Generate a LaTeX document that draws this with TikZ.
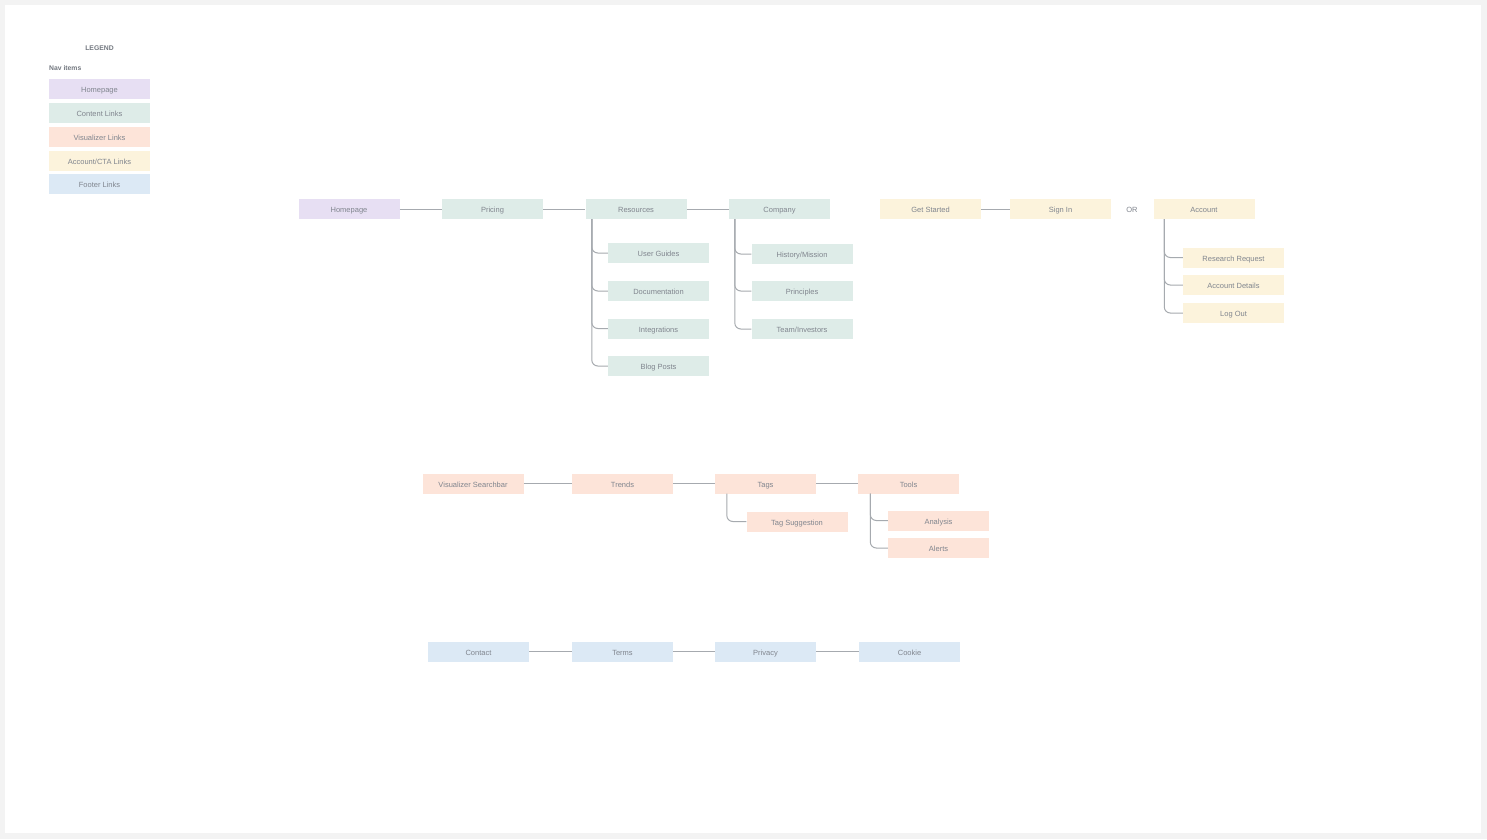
\documentclass[tikz,border=0pt]{standalone}
\usepackage{fontspec}
\setmainfont{Liberation Sans}
\usepackage{xcolor}
\usetikzlibrary{calc}

\definecolor{homefill}{HTML}{E7DFF3}
\definecolor{contentfill}{HTML}{DEECE8}
\definecolor{vizfill}{HTML}{FDE4D9}
\definecolor{acctfill}{HTML}{FCF3DC}
\definecolor{footfill}{HTML}{DCE9F5}
\definecolor{labelgray}{HTML}{80858E}
\definecolor{headgray}{HTML}{737880}
\definecolor{linkgray}{HTML}{A6AAAF}
\definecolor{pagebg}{HTML}{F3F3F3}

\tikzset{
  navbox/.style={rectangle,minimum width=101pt,minimum height=20pt,inner sep=0pt,
    text height=9.3pt,text depth=1.5pt,
    text=labelgray,font=\fontsize{7.5}{9}\selectfont},
  homebox/.style={navbox,fill=homefill},
  contentbox/.style={navbox,fill=contentfill},
  vizbox/.style={navbox,fill=vizfill},
  acctbox/.style={navbox,fill=acctfill},
  footbox/.style={navbox,fill=footfill},
  headtext/.style={text=headgray,font=\bfseries\fontsize{6.8}{8}\selectfont,inner sep=0pt},
  link/.style={draw=linkgray,line width=1pt},
  branch/.style={link,rounded corners=6pt}
}

\begin{document}
\begin{tikzpicture}[x=1pt,y=-1pt]
                \useasboundingbox (0,0) rectangle (1487,839);
                \fill[pagebg] (0,0) rectangle (1487,839);
                \fill[white] (5,5) rectangle (1481,833);

                % legend
                \node[headtext] (legend) at (99.5,48) {LEGEND};
                \node[headtext,anchor=west] (navitems) at (49,68.5) {Nav items};
                \node[homebox] (lhome) at (99.5,89) {Homepage};
                \node[contentbox] (lcontent) at (99.5,113) {Content Links};
                \node[vizbox] (lviz) at (99.5,137) {Visualizer Links};
                \node[acctbox] (lacct) at (99.5,161) {Account/CTA Links};
                \node[footbox] (lfoot) at (99.5,184) {Footer Links};

                % top row
                \node[homebox] (home) at (349,209) {Homepage};
                \node[contentbox] (pricing) at (492.5,209) {Pricing};
                \node[contentbox] (resources) at (636,209) {Resources};
                \node[contentbox] (company) at (779.5,209) {Company};
                \node[acctbox] (started) at (930.5,209) {Get Started};
                \node[acctbox] (signin) at (1060.5,209) {Sign In};
                \node[text=labelgray,font=\fontsize{7.5}{9}\selectfont,text height=9.3pt,text depth=1.5pt] (or) at (1132,209) {OR};
                \node[acctbox] (account) at (1204,209) {Account};

                \draw[link] (home) -- (pricing);
                \draw[link] (pricing) -- (resources);
                \draw[link] (resources) -- (company);
                \draw[link] (started) -- (signin);

                % resources
                \node[contentbox] (guides) at (658.5,253) {User Guides};
                \node[contentbox] (docs) at (658.5,291) {Documentation};
                \node[contentbox] (integrations) at (658.5,328.5) {Integrations};
                \node[contentbox] (blog) at (658.5,366) {Blog Posts};
                \foreach \child in {guides,docs,integrations,blog}
                    \draw[branch] ([xshift=6.5pt]resources.south west) |- (\child.west);

                % company
                \node[contentbox] (history) at (802,254) {History/Mission};
                \node[contentbox] (principles) at (802,291) {Principles};
                \node[contentbox] (team) at (802,329) {Team/Investors};
                \foreach \child in {history,principles,team}
                    \draw[branch] ([xshift=6pt]company.south west) |- (\child.west);

                % account
                \node[acctbox] (research) at (1233.5,257.5) {Research Request};
                \node[acctbox] (details) at (1233.5,285) {Account Details};
                \node[acctbox] (logout) at (1233.5,313) {Log Out};
                \foreach \child in {research,details,logout}
                    \draw[branch] ([xshift=11pt]account.south west) |- (\child.west);

                % visualizer row
                \node[vizbox] (searchbar) at (473,483.5) {Visualizer Searchbar};
                \node[vizbox] (trends) at (622.5,483.5) {Trends};
                \node[vizbox] (tags) at (765.5,483.5) {Tags};
                \node[vizbox] (tools) at (908.5,483.5) {Tools};
                \draw[link] (searchbar) -- (trends);
                \draw[link] (trends) -- (tags);
                \draw[link] (tags) -- (tools);

                \node[vizbox] (suggestion) at (797,521.5) {Tag Suggestion};
                \draw[branch] ([xshift=12pt]tags.south west) |- (suggestion.west);

                \node[vizbox] (analysis) at (938.5,520.5) {Analysis};
                \node[vizbox] (alerts) at (938.5,548) {Alerts};
                \foreach \child in {analysis,alerts}
                    \draw[branch] ([xshift=12.5pt]tools.south west) |- (\child.west);

                % footer row
                \node[footbox] (contact) at (478.5,651.5) {Contact};
                \node[footbox] (terms) at (622.5,651.5) {Terms};
                \node[footbox] (privacy) at (765.5,651.5) {Privacy};
                \node[footbox] (cookie) at (909.5,651.5) {Cookie};
                \draw[link] (contact) -- (terms);
                \draw[link] (terms) -- (privacy);
                \draw[link] (privacy) -- (cookie);
            \end{tikzpicture}
\end{document}
